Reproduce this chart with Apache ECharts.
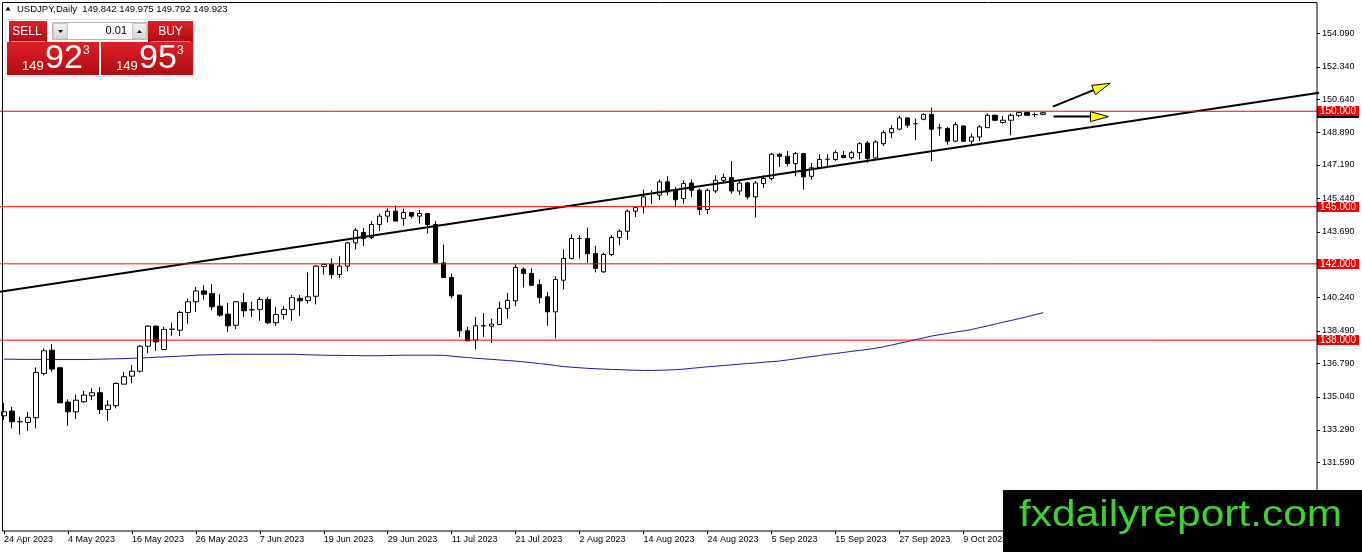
<!DOCTYPE html>
<html><head><meta charset="utf-8">
<script src="https://cdn.jsdelivr.net/npm/echarts@6/dist/echarts.min.js"></script>
<style>html,body{margin:0;padding:0;background:#fff}#c{width:1362px;height:552px}</style>
</head><body><div id="c"></div>
<script>
const dates = ["24 Apr 2023","25 Apr 2023","26 Apr 2023","27 Apr 2023","28 Apr 2023",
"1 May 2023","2 May 2023","3 May 2023","4 May 2023","5 May 2023","8 May 2023","9 May 2023","10 May 2023","11 May 2023","12 May 2023",
"15 May 2023","16 May 2023","17 May 2023","18 May 2023","19 May 2023","22 May 2023","23 May 2023","24 May 2023","25 May 2023","26 May 2023",
"29 May 2023","30 May 2023","31 May 2023","1 Jun 2023","2 Jun 2023","5 Jun 2023","6 Jun 2023","7 Jun 2023","8 Jun 2023","9 Jun 2023",
"12 Jun 2023","13 Jun 2023","14 Jun 2023","15 Jun 2023","16 Jun 2023","19 Jun 2023","20 Jun 2023","21 Jun 2023","22 Jun 2023","23 Jun 2023",
"26 Jun 2023","27 Jun 2023","28 Jun 2023","29 Jun 2023","30 Jun 2023","3 Jul 2023","4 Jul 2023","5 Jul 2023","6 Jul 2023","7 Jul 2023",
"10 Jul 2023","11 Jul 2023","12 Jul 2023","13 Jul 2023","14 Jul 2023","17 Jul 2023","18 Jul 2023","19 Jul 2023","20 Jul 2023","21 Jul 2023",
"24 Jul 2023","25 Jul 2023","26 Jul 2023","27 Jul 2023","28 Jul 2023","31 Jul 2023","1 Aug 2023","2 Aug 2023","3 Aug 2023","4 Aug 2023",
"7 Aug 2023","8 Aug 2023","9 Aug 2023","10 Aug 2023","11 Aug 2023","14 Aug 2023","15 Aug 2023","16 Aug 2023","17 Aug 2023","18 Aug 2023",
"21 Aug 2023","22 Aug 2023","23 Aug 2023","24 Aug 2023","25 Aug 2023","28 Aug 2023","29 Aug 2023","30 Aug 2023","31 Aug 2023","1 Sep 2023",
"4 Sep 2023","5 Sep 2023","6 Sep 2023","7 Sep 2023","8 Sep 2023","11 Sep 2023","12 Sep 2023","13 Sep 2023","14 Sep 2023","15 Sep 2023",
"18 Sep 2023","19 Sep 2023","20 Sep 2023","21 Sep 2023","22 Sep 2023","25 Sep 2023","26 Sep 2023","27 Sep 2023","28 Sep 2023","29 Sep 2023",
"2 Oct 2023","3 Oct 2023","4 Oct 2023","5 Oct 2023","6 Oct 2023","9 Oct 2023","10 Oct 2023","11 Oct 2023","12 Oct 2023","13 Oct 2023",
"16 Oct 2023","17 Oct 2023","18 Oct 2023","19 Oct 2023","20 Oct 2023","23 Oct 2023"];

const opens = [134.03,134.28,133.72,133.68,133.93,136.25,137.47,136.55,134.75,134.24,
134.77,135.08,135.24,134.36,134.56,135.69,136.11,136.37,137.68,138.73,
137.51,138.57,138.52,139.45,140.01,140.58,140.44,139.78,139.36,138.78,
139.97,139.59,139.61,140.13,138.91,139.34,139.61,140.18,140.08,140.30,
141.86,141.98,141.44,141.88,143.10,143.64,143.38,144.06,144.50,144.76,
144.38,144.69,144.50,144.64,144.06,142.05,141.28,140.36,138.49,138.00,
138.75,138.73,138.82,139.66,140.06,141.72,141.49,140.91,140.27,139.48,
141.14,142.28,143.33,143.33,142.54,141.58,142.49,143.38,143.71,144.76,
144.99,145.69,145.60,146.30,145.86,145.42,146.24,145.86,144.85,145.82,
146.38,146.52,145.82,146.24,145.51,146.21,146.47,147.75,147.64,147.26,
147.78,146.59,147.04,147.48,147.47,147.69,147.57,147.83,148.33,147.55,
148.30,148.88,149.06,149.65,149.35,149.58,149.83,149.13,149.09,148.43,
149.23,148.43,148.65,149.14,149.79,149.41,149.53,149.79,149.93,149.83,
149.842];
const highs = [134.71,134.50,133.98,134.24,136.57,137.56,137.79,136.60,134.89,135.15,
135.34,135.47,135.52,134.85,135.78,136.34,136.69,137.74,138.78,138.78,
138.70,138.91,139.54,140.18,140.79,140.88,140.93,140.41,139.95,140.06,
140.48,140.01,140.27,140.27,139.74,139.78,140.36,140.36,141.55,141.93,
142.02,142.28,142.40,143.15,143.88,143.88,144.24,144.64,144.90,145.07,
144.90,144.72,144.81,144.64,144.24,143.01,141.49,140.39,138.70,139.22,
139.42,139.13,140.01,140.48,141.98,141.81,141.76,141.18,140.53,141.35,
142.75,143.55,143.50,143.90,142.94,142.59,143.50,143.80,144.85,145.02,
145.89,145.86,146.42,146.59,146.03,146.38,146.42,145.95,145.95,146.64,
146.73,147.38,146.42,146.30,146.35,146.64,147.82,147.82,147.92,147.87,
147.82,147.29,147.75,147.75,147.96,147.92,147.92,148.39,148.44,148.48,
149.00,149.27,149.76,149.70,149.62,149.88,150.18,149.35,149.18,149.44,
149.27,148.83,149.27,149.88,149.83,149.76,149.88,150.00,149.96,149.93,
149.975];
const lows = [133.81,133.37,133.05,133.23,133.37,136.16,136.34,134.71,133.51,133.86,
134.71,134.85,134.12,133.77,134.42,135.69,135.73,136.30,137.30,137.44,
137.47,138.21,138.21,138.87,139.48,140.13,139.57,139.22,138.43,138.57,
139.22,139.22,139.01,138.84,138.75,139.08,139.01,139.26,139.92,139.87,
141.44,141.23,141.26,141.61,142.75,142.93,143.29,143.71,144.17,144.24,
143.99,144.38,144.11,143.59,142.02,141.28,140.18,138.17,137.96,137.51,
138.17,137.85,138.79,139.13,139.78,140.76,140.83,139.92,138.75,138.09,
140.65,142.23,142.28,142.05,141.55,141.53,142.40,142.98,143.27,144.46,
144.64,145.13,145.34,145.60,144.97,145.16,145.51,144.55,144.60,145.72,
146.21,145.68,145.60,145.37,144.43,145.99,146.38,147.08,147.12,146.59,
145.89,146.42,146.99,147.08,147.40,147.57,147.47,147.47,147.31,147.52,
148.18,148.60,149.00,149.13,148.48,149.53,147.38,148.71,148.25,148.39,
148.39,148.18,148.43,149.13,149.48,149.35,148.74,149.70,149.76,149.70,
149.792];
const closes = [134.24,133.72,133.72,133.95,136.30,137.44,136.48,134.71,134.24,134.85,
135.12,135.24,134.36,134.59,135.73,136.08,136.37,137.68,138.73,137.91,
138.56,138.57,139.45,140.01,140.58,140.41,139.75,139.31,138.75,140.01,
139.54,139.59,140.13,138.91,139.34,139.61,140.23,140.06,140.27,141.88,
141.96,141.44,141.88,143.10,143.76,143.33,144.06,144.50,144.76,144.24,
144.69,144.50,144.64,144.06,142.05,141.28,140.32,138.49,137.96,138.75,
138.75,138.84,139.66,140.09,141.81,141.49,140.88,140.23,139.48,141.18,
142.28,143.33,143.33,142.54,141.76,142.49,143.38,143.71,144.76,144.95,
145.51,145.69,146.30,145.77,145.36,146.21,145.86,144.85,145.86,146.38,
146.52,145.82,146.24,145.51,146.24,146.47,147.75,147.64,147.26,147.78,
146.56,147.04,147.47,147.48,147.83,147.57,147.83,148.30,147.52,148.39,
148.88,149.09,149.65,149.27,149.35,149.83,149.06,149.13,148.43,149.30,
148.43,148.65,149.18,149.79,149.53,149.53,149.79,149.93,149.79,149.83,
149.923];
const movingAverage = [137.00,137.00,136.99,136.99,136.99,136.98,136.98,136.98,136.98,136.98,136.98,
136.99,137.00,137.01,137.02,137.03,137.05,137.06,
137.08,137.10,137.12,137.14,137.16,137.18,137.21,
137.22,137.23,137.24,137.26,137.26,137.26,137.26,137.26,137.26,137.26,137.26,
137.26,137.25,137.23,137.22,137.21,137.20,137.20,137.19,137.19,137.18,137.18,
137.18,137.19,137.20,137.21,137.21,137.21,137.21,137.21,137.20,137.16,
137.12,137.09,137.05,137.02,136.99,136.96,136.93,136.90,136.86,136.82,
136.77,136.72,136.67,136.61,136.58,136.55,136.52,136.50,136.48,136.46,
136.45,136.43,136.42,136.41,136.41,136.42,136.43,136.45,136.48,136.52,
136.56,136.60,136.63,136.67,136.70,136.74,136.77,136.80,136.84,136.87,
136.90,136.96,137.02,137.08,137.13,137.19,137.25,137.30,137.35,137.41,
137.46,137.51,137.57,137.65,137.74,137.83,137.92,138.02,138.11,138.21,
138.28,138.35,138.42,138.48,138.55,138.65,138.74,138.84,138.94,139.03,
139.13,139.23,139.33,139.44];

const priceTicks = [154.09,152.34,150.64,148.89,147.19,145.44,143.69,140.24,138.49,136.79,135.04,133.29,131.59];
const levels = [150, 145, 142, 138];
const trendLine = [[-0.5, 140.53], [164.5, 150.97]];
const arrows = [[131.21, 150.24, 138.38, 151.47], [131.29, 149.72, 138.16, 149.72]];
const bidPrice = 149.923;
const futureSlots = 34;
const headerSymbol = 'USDJPY,Daily';
const headerOhlc = [149.842, 149.975, 149.792, 149.923];
const lotSize = '0.01';
const sellQuote = ['149', '92', '3'];
const buyQuote = ['149', '95', '3'];
const watermark = 'fxdailyreport.com';

const FONT = '"Liberation Sans", Arial, sans-serif';
const N = dates.length + futureSlots;
const cats = dates.concat(Array.from({length: futureSlots}, (_, i) => '~' + i));
const candles = opens.map((o, i) => [o, closes[i], lows[i], highs[i]]);
// horizontal level segments spanning the plot, separated by gaps
const levelSegments = [];
levels.forEach(v => { levelSegments.push([-0.5, v], [N - 0.75, v], [null, null]); });

const redGrad = {type: 'linear', x: 0, y: 0, x2: 0, y2: 1,
  colorStops: [{offset: 0, color: '#de1f26'}, {offset: 1, color: '#b00c12'}]};
const grayGrad = {type: 'linear', x: 0, y: 0, x2: 0, y2: 1,
  colorStops: [{offset: 0, color: '#f4f4f4'}, {offset: 1, color: '#d4d4d4'}]};

function txt(x, y, text, size, color, align, extra) {
  return Object.assign({type: 'text', x: x, y: y, silent: true, z: 120,
    style: {x: 0, y: 0, text: text, fill: color, font: size + 'px ' + FONT,
      textAlign: align || 'left', textVerticalAlign: 'middle', verticalAlign: 'middle'}}, extra || {});
}
function rect(x, y, w, h, fill, stroke, z) {
  return {type: 'rect', silent: true, z: z || 110, shape: {x: x, y: y, width: w, height: h},
    style: {fill: fill, stroke: stroke || null, lineWidth: 1}};
}
function priceBox(api, fill) {
  const c = api.coord([api.value(0), api.value(1)]);
  const x0 = Math.round(c[0]) - 2, y0 = Math.round(c[1]);
  return {type: 'group', children: [
    {type: 'rect', shape: {x: x0, y: y0 - 5, width: 42, height: 10}, style: {fill: fill, stroke: null}},
    {type: 'text', z2: 2, style: {x: x0 + 3, y: y0, text: api.value(1).toFixed(3), fill: '#fff',
      font: '10px ' + FONT, textAlign: 'left', verticalAlign: 'middle', textVerticalAlign: 'middle'}}
  ]};
}

const graphics = [
  {type: 'rect', silent: true, z: 90, shape: {x: 2.5, y: 2.5, width: 1314.5, height: 528.5},
    style: {fill: null, stroke: '#000', lineWidth: 1}},
  {type: 'polygon', silent: true, z: 120, shape: {points: [[5.5, 10.5], [10.5, 10.5], [8, 6.5]]}, style: {fill: '#000'}},
  txt(17, 9, headerSymbol + '  ' + headerOhlc.map(v => v.toFixed(3)).join(' '), 9.5, '#000'),
  rect(5.5, 19.5, 188, 57, '#fff', '#e4e4e4', 105),
  rect(9, 21, 38, 21, redGrad),
  rect(148, 21, 45, 21, redGrad),
  rect(7, 42, 92, 33, redGrad),
  rect(101, 42, 92, 33, redGrad),
  {type: 'line', silent: true, z: 115, shape: {x1: 11, y1: 41.5, x2: 45, y2: 41.5}, style: {stroke: '#f08080', lineWidth: 1}},
  {type: 'line', silent: true, z: 115, shape: {x1: 151, y1: 41.5, x2: 190, y2: 41.5}, style: {stroke: '#f08080', lineWidth: 1}},
  rect(52.5, 22.5, 95, 17, '#fff', '#b8b8b8'),
  rect(53.5, 23.5, 14, 15, grayGrad, '#c8c8c8'),
  rect(132.5, 23.5, 14, 15, grayGrad, '#c8c8c8'),
  {type: 'polygon', silent: true, z: 120, shape: {points: [[58, 30], [63, 30], [60.5, 33]]}, style: {fill: '#000'}},
  {type: 'polygon', silent: true, z: 120, shape: {points: [[137, 33], [142, 33], [139.5, 30]]}, style: {fill: '#000'}},
  txt(127, 31, lotSize, 11, '#000', 'right'),
  txt(27, 31.5, 'SELL', 12, '#fff', 'center'),
  txt(170.5, 31.5, 'BUY', 12, '#fff', 'center'),
  txt(22, 66, sellQuote[0], 13, '#fff', 'left'),
  txt(45, 59, sellQuote[1], 34, '#fff', 'left'),
  txt(83, 51, sellQuote[2], 12, '#fff', 'left'),
  txt(116, 66, buyQuote[0], 13, '#fff', 'left'),
  txt(139, 59, buyQuote[1], 34, '#fff', 'left'),
  txt(177, 51, buyQuote[2], 12, '#fff', 'left'),
  rect(1003, 490, 359, 62, '#000', null, 130),
  txt(1019, 516, watermark, 37, '#3bd42c', 'left', {z: 140, scaleX: 1.147})
];

const option = {
  animation: false,
  backgroundColor: '#fff',
  grid: {left: -1, right: 43, top: 2, bottom: 21, containLabel: false},
  xAxis: [
    {type: 'category', data: cats, boundaryGap: true,
      axisLine: {show: false},
      axisTick: {show: true, alignWithLabel: true, interval: 7, length: 3, lineStyle: {color: '#000'}},
      axisLabel: {interval: 7, align: 'left', margin: 4, fontSize: 9, color: '#000', fontFamily: FONT,
        formatter: v => (v.charAt(0) === '~' ? '' : v)},
      splitLine: {show: false}},
    {type: 'value', min: -0.5, max: N - 0.5, show: false,
      axisLine: {show: false, onZero: false}, splitLine: {show: false}}
  ],
  yAxis: {type: 'value', position: 'right', offset: -2, min: 127.99, max: 155.73,
    axisLine: {show: false, onZero: false}, splitLine: {show: false},
    axisTick: {show: false},
    axisLabel: {customValues: priceTicks, formatter: v => v.toFixed(3), margin: 5, fontSize: 9,
      color: '#000', fontFamily: FONT}},
  series: [
    {type: 'candlestick', data: candles, barWidth: 5, z: 3,
      itemStyle: {color: '#fff', color0: '#000', borderColor: '#000', borderColor0: '#000', borderWidth: 1}},
    {type: 'line', data: movingAverage, showSymbol: false, symbol: 'none', z: 2,
      itemStyle: {color: '#1a1a9a'}, lineStyle: {color: '#1a1a9a', width: 1}},
    {type: 'line', xAxisIndex: 1, data: trendLine, showSymbol: false, symbol: 'none', z: 5,
      itemStyle: {color: '#000'}, lineStyle: {color: '#000', width: 2}},
    {type: 'line', xAxisIndex: 1, data: levelSegments, showSymbol: false, symbol: 'none', z: 6,
      connectNulls: false, clip: false,
      itemStyle: {color: '#ff0000'}, lineStyle: {color: '#ff0000', width: 1}},
    {type: 'custom', xAxisIndex: 1, data: [[N - 0.5, bidPrice]], z: 7, silent: true, clip: false,
      encode: {x: 0, y: 1},
      renderItem: (params, api) => priceBox(api, '#000')},
    {type: 'custom', xAxisIndex: 1, data: levels.map(v => [N - 0.5, v]), z: 8, silent: true, clip: false,
      encode: {x: 0, y: 1},
      renderItem: (params, api) => priceBox(api, '#f00000')},
    {type: 'custom', xAxisIndex: 1, data: arrows, z: 9, silent: true,
      encode: {x: [0, 2], y: [1, 3]},
      renderItem: (params, api) => {
        const a = api.coord([api.value(0), api.value(1)]);
        const b = api.coord([api.value(2), api.value(3)]);
        const dx = b[0] - a[0], dy = b[1] - a[1], len = Math.hypot(dx, dy);
        const ux = dx / len, uy = dy / len, hl = 18, hw = 5;
        const base = [b[0] - ux * hl, b[1] - uy * hl];
        const p1 = [base[0] - uy * hw, base[1] + ux * hw];
        const p2 = [base[0] + uy * hw, base[1] - ux * hw];
        return {type: 'group', children: [
          {type: 'line', shape: {x1: a[0], y1: a[1], x2: base[0], y2: base[1]}, style: {stroke: '#000', lineWidth: 2}},
          {type: 'polygon', shape: {points: [b, p1, p2]}, style: {fill: '#ffff00', stroke: '#000', lineWidth: 1}}
        ]};
      }},
    {type: 'custom', xAxisIndex: 1, data: priceTicks.map(v => [N - 0.5, v]), z: 9, silent: true, clip: false,
      encode: {x: 0, y: 1},
      renderItem: (params, api) => {
        const c = api.coord([api.value(0), api.value(1)]);
        const x0 = Math.round(c[0]) - 2, y0 = Math.round(c[1]) + 0.5;
        return {type: 'line', shape: {x1: x0, y1: y0, x2: x0 + 3, y2: y0}, style: {stroke: '#000', lineWidth: 1}};
      }}
  ],
  graphic: graphics
};
const chart = echarts.init(document.getElementById('c'), null, {renderer: 'canvas'});
chart.setOption(option);
</script></body></html>
